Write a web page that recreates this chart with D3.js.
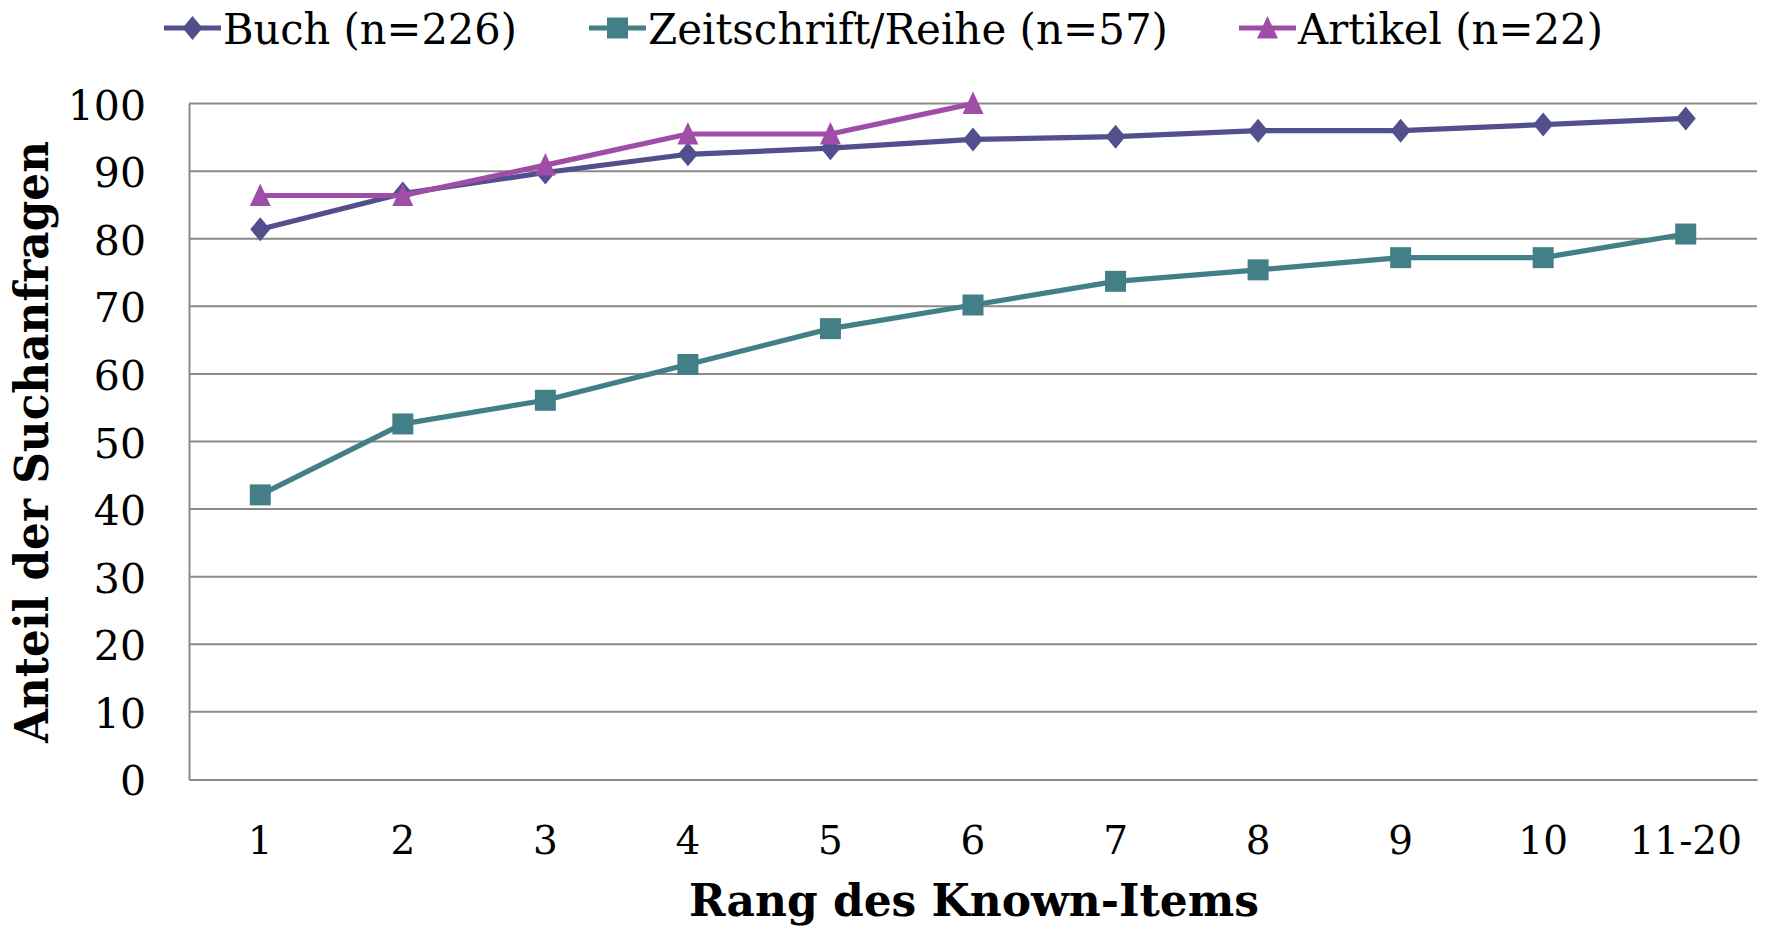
<!DOCTYPE html>
<html><head><meta charset="utf-8">
<script src="https://cdn.jsdelivr.net/npm/d3@7"></script>
<style>body{margin:0;background:#fff}svg{display:block}</style>
</head><body>
<svg id="c" width="1766" height="927"></svg>
<script>
const categories = ["1","2","3","4","5","6","7","8","9","10","11-20"];
const buch = [81.4, 86.7, 89.8, 92.5, 93.4, 94.7, 95.1, 96.0, 96.0, 96.9, 97.8];
const zeitschrift = [42.1, 52.6, 56.1, 61.4, 66.7, 70.2, 73.7, 75.4, 77.2, 77.2, 80.7];
const artikel = [86.4, 86.4, 90.9, 95.5, 95.5, 100.0];
const seriesNames = ["Buch (n=226)", "Zeitschrift/Reihe (n=57)", "Artikel (n=22)"];
const yTicks = [0,10,20,30,40,50,60,70,80,90,100];
const yTitle = "Anteil der Suchanfragen";
const xTitle = "Rang des Known-Items";

const colors = ["#514F8C", "#437F86", "#9E4EA6"];
const shapes = ["diamond", "square", "triangle"];
const series = [buch, zeitschrift, artikel];

const svg = d3.select("#c");
const L = 189, R = 1757, T = 103.6, B = 779.4;
const x = d3.scaleBand().domain(categories).range([L, R]);
const y = d3.scaleLinear().domain([0, 100]).range([B, T]);
const font = "'DejaVu Serif', serif";

// gridlines
svg.append("g").selectAll("line").data(yTicks.filter(d => d > 0)).join("line")
  .attr("x1", L).attr("x2", R).attr("y1", d => y(d)).attr("y2", d => y(d))
  .attr("stroke", "#8a8a8a").attr("stroke-width", 2);

// axes
const yAxis = d3.axisLeft(y).tickValues(yTicks).tickSize(0).tickPadding(43);
const gy = svg.append("g").attr("transform", `translate(${L},0)`).call(yAxis);
gy.select(".domain").attr("stroke", "#8a8a8a").attr("stroke-width", 2);
gy.selectAll("text").attr("font-family", font).attr("font-size", 41).attr("fill", "#000").attr("dy", "0.38em");

const xAxis = d3.axisBottom(x).tickSize(0).tickPadding(47);
const gx = svg.append("g").attr("transform", `translate(0,${B})`).call(xAxis);
gx.select(".domain").attr("stroke", "#8a8a8a").attr("stroke-width", 2);
gx.selectAll("text").attr("font-family", font).attr("font-size", 39).attr("fill", "#000").attr("dy", "0.71em");

// axis titles
svg.append("text").attr("transform", `translate(48,442) rotate(-90)`)
  .attr("text-anchor", "middle").attr("font-family", font).attr("font-weight", "bold")
  .attr("font-size", 46).attr("textLength", 602).attr("lengthAdjust", "spacingAndGlyphs").text(yTitle);
svg.append("text").attr("x", 974).attr("y", 916)
  .attr("text-anchor", "middle").attr("font-family", font).attr("font-weight", "bold")
  .attr("font-size", 45).attr("textLength", 570).attr("lengthAdjust", "spacingAndGlyphs").text(xTitle);

function markerPath(shape) {
  if (shape === "diamond") return "M0,-12L10,0L0,12L-10,0Z";
  if (shape === "square") return "M-10.5,-10.5H10.5V10.5H-10.5Z";
  return "M0,-12L10.5,10.5H-10.5Z";
}

const line = d3.line().x((d, i) => x(categories[i]) + x.bandwidth() / 2).y(d => y(d));
series.forEach((vals, si) => {
  const g = svg.append("g");
  g.append("path").attr("d", line(vals)).attr("fill", "none")
    .attr("stroke", colors[si]).attr("stroke-width", 5.2).attr("stroke-linejoin", "round");
  g.selectAll("path.m").data(vals).join("path").attr("class", "m")
    .attr("transform", (d, i) => `translate(${x(categories[i]) + x.bandwidth() / 2},${y(d)})`)
    .attr("d", markerPath(shapes[si])).attr("fill", colors[si]);
});

// legend
const legX = [164, 589, 1239];
const legW = [294, 520, 305];
seriesNames.forEach((name, si) => {
  const g = svg.append("g").attr("transform", `translate(${legX[si]},28)`);
  g.append("line").attr("x1", 0).attr("x2", 57).attr("stroke", colors[si]).attr("stroke-width", 5.2);
  g.append("path").attr("transform", "translate(28.5,0)").attr("d", markerPath(shapes[si])).attr("fill", colors[si]);
  g.append("text").attr("x", 59).attr("y", 16).attr("font-family", font).attr("font-size", 43)
    .attr("textLength", legW[si]).attr("lengthAdjust", "spacingAndGlyphs").text(name);
});
</script>
</body></html>
